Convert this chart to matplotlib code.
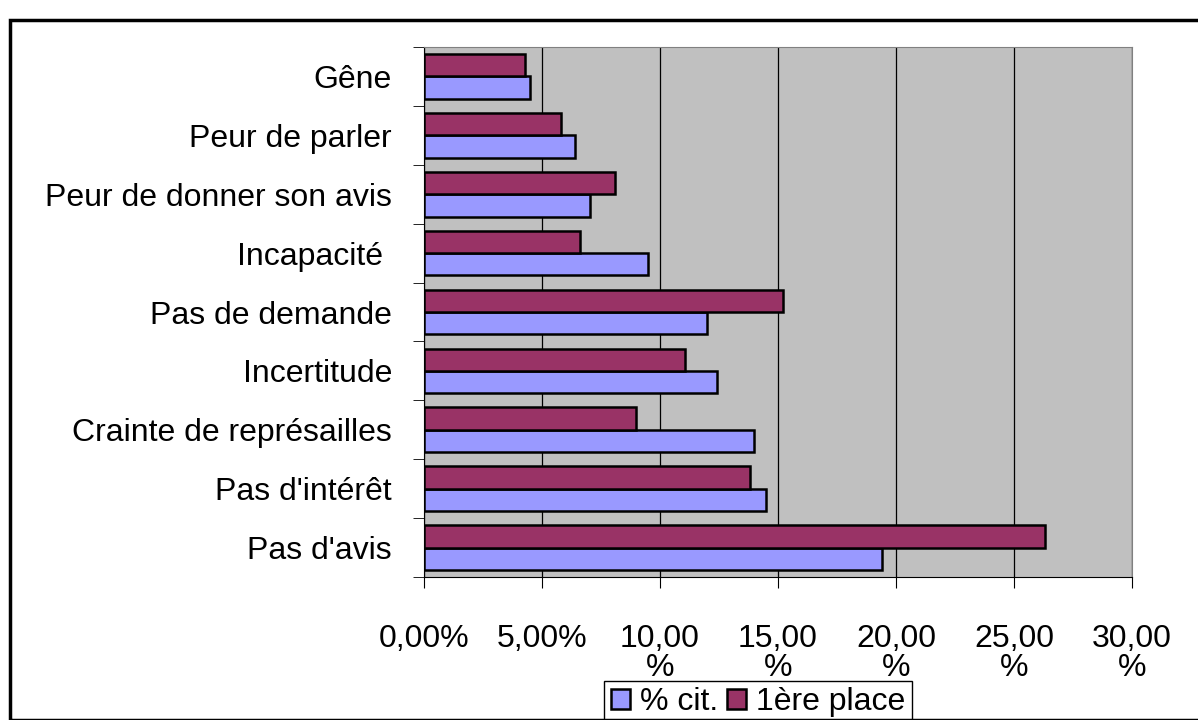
import matplotlib.pyplot as plt
from matplotlib.patches import Rectangle
import numpy as np

plt.rcParams['font.family'] = ['Liberation Sans', 'DejaVu Sans']

categories = ["Pas d'avis", "Pas d'intérêt", "Crainte de représailles", "Incertitude",
              "Pas de demande", "Incapacité ", "Peur de donner son avis",
              "Peur de parler", "Gêne"]
pct_cit = [19.4, 14.5, 14.0, 12.4, 12.0, 9.5, 7.05, 6.4, 4.5]
first_place = [26.3, 13.8, 9.0, 11.05, 15.2, 6.6, 8.1, 5.8, 4.3]
xtick_vals = [0, 5, 10, 15, 20, 25, 30]
xtick_labels = ['0,00%', '5,00%', '10,00\n%', '15,00\n%', '20,00\n%', '25,00\n%', '30,00\n%']

fig = plt.figure(figsize=(11.98, 7.2), dpi=100)
ax = fig.add_axes([424 / 1198, 1 - 577 / 720, (1132 - 424) / 1198, (577 - 47) / 720])
ax.set_facecolor('#C0C0C0')

y = np.arange(len(categories))
h = 0.38
ax.barh(y - h / 2, pct_cit, height=h, color='#9999FF', edgecolor='black', linewidth=1.8,
        label='% cit.', zorder=3)
ax.barh(y + h / 2, first_place, height=h, color='#993366', edgecolor='black', linewidth=1.8,
        label='1ère place', zorder=3)

ax.set_xlim(0, 30)
ax.set_ylim(-0.5, len(categories) - 0.5)
ax.set_xticks(xtick_vals)
ax.set_xticklabels(xtick_labels, fontsize=23, linespacing=0.95)
ax.set_yticks(y)
ax.set_yticklabels(categories, fontsize=23)
ax.tick_params(axis='y', length=0, pad=23)
ax.set_yticks(np.arange(len(categories) + 1) - 0.5, minor=True)
ax.tick_params(axis='y', which='minor', length=8, direction='out')
ax.tick_params(axis='x', length=8, direction='out', pad=26)
ax.xaxis.grid(True, color='black', linewidth=0.9, zorder=1)
ax.set_axisbelow(True)
for s in ['top', 'right']:
    ax.spines[s].set_color('#808080')
for s in ['left', 'bottom']:
    ax.spines[s].set_color('black')

ax.legend(loc='upper center', bbox_to_anchor=(758 / 1198, 1 - 681 / 720),
          bbox_transform=fig.transFigure, ncol=2, fontsize=23, frameon=True,
          fancybox=False, edgecolor='black', handlelength=0.6, handleheight=0.6,
          handletextpad=0.3, columnspacing=0.3, borderpad=0.2, borderaxespad=0,
          framealpha=1)

fig.patches.append(Rectangle((10 / 1198, 0), 1.0, 1 - 20 / 720, transform=fig.transFigure,
                             fill=False, edgecolor='black', linewidth=2.5))

fig.savefig('out.png', dpi=100)
